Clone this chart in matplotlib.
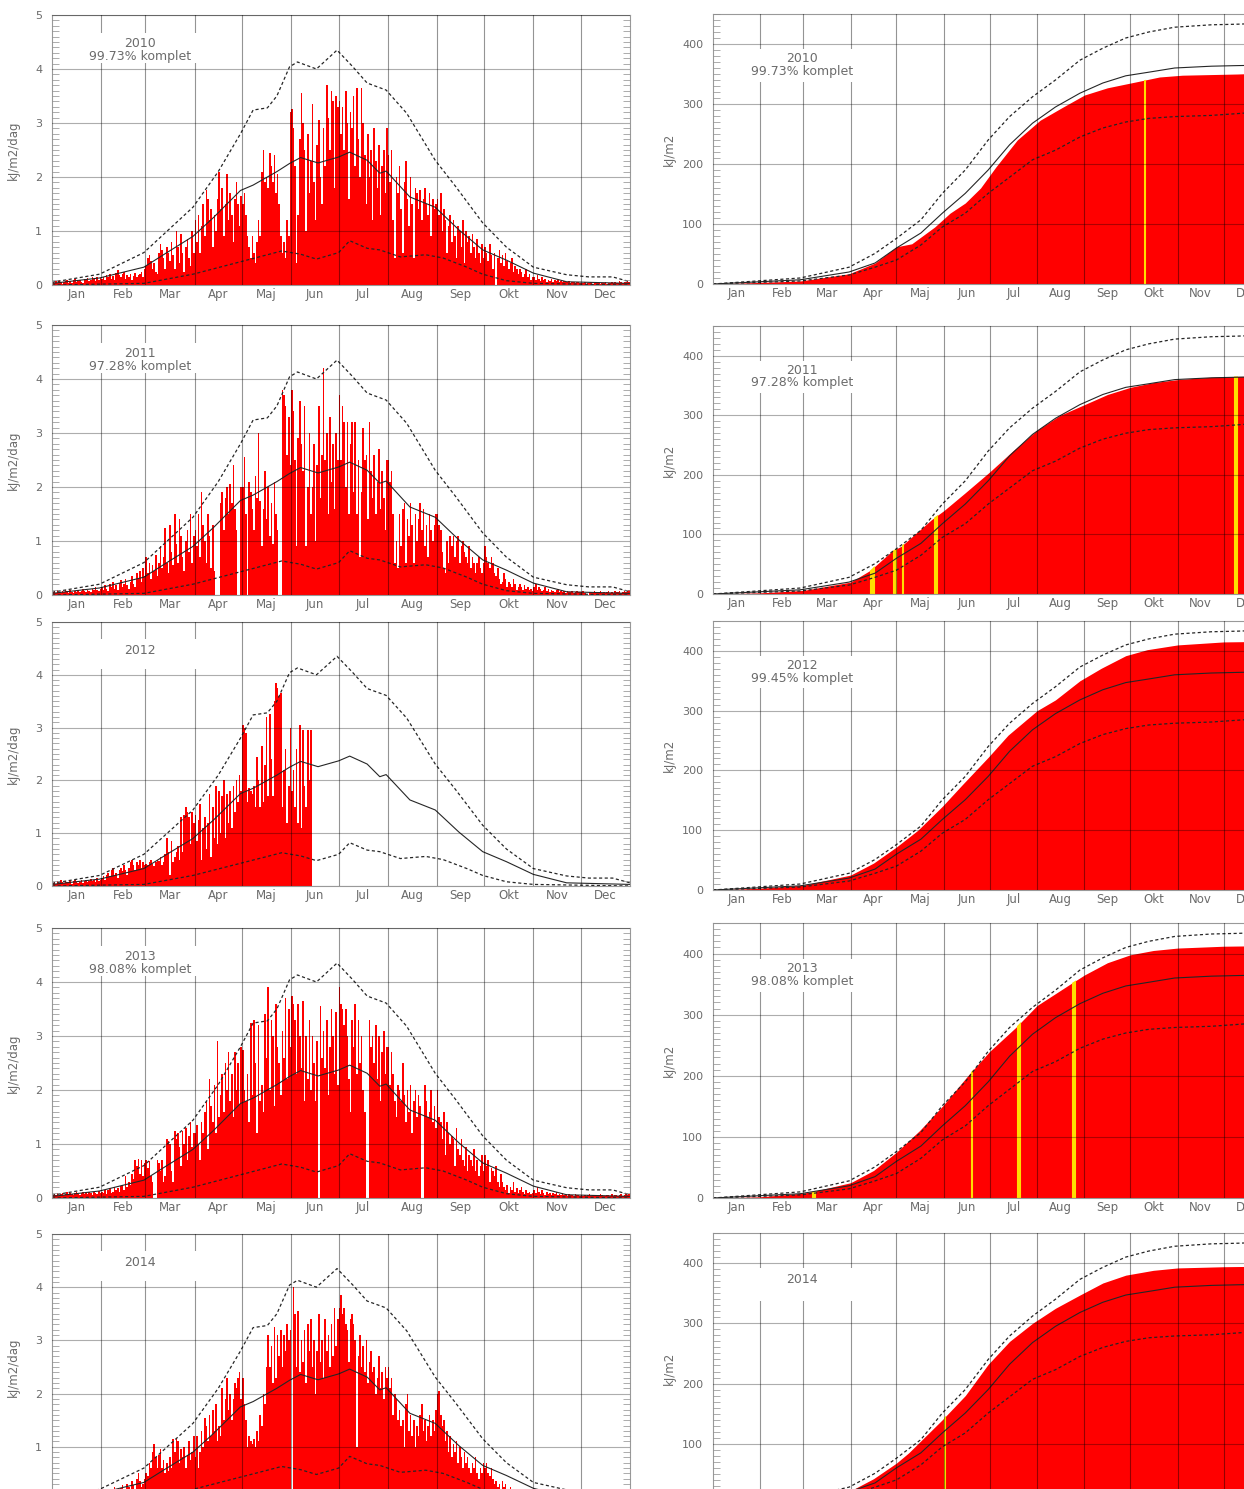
"""Daily and accumulated radiation 2010-2014 compared with climatology"""
import numpy as np
import matplotlib
matplotlib.use("Agg")
import matplotlib.pyplot as plt
from matplotlib.patches import Rectangle
from matplotlib.ticker import MultipleLocator

FIG_W = 1244
FIG_H = 1489

RED = "#ff0000"
YELLOW = "#ffdd00"
TEXT_COLOR = "0.42"
SPINE_COLOR = "0.6"
LINE_COLOR = "0.15"

years = [2010, 2011, 2012, 2013, 2014]
komplet_left = ["99.73% komplet", "97.28% komplet", None, "98.08% komplet", None]
komplet_right = ["99.73% komplet", "97.28% komplet", "99.45% komplet",
                 "98.08% komplet", None]

month_names = ["Jan", "Feb", "Mar", "Apr", "Maj", "Jun",
               "Jul", "Aug", "Sep", "Okt", "Nov", "Dec"]
month_starts = [0, 31, 59, 90, 120, 151, 181, 212, 243, 273, 304, 334, 365]

# daily values, in 0.01 kJ/m2/dag, one line per month
daily_2010 = [
    5, 3, 8, 4, 10, 6, 2, 5, 8, 10, 4, 7, 3, 9, 12, 5, 8, 10, 6, 4, 11, 9, 13, 7, 10, 15, 12, 8, 14, 10, 13,
    12, 15, 10, 18, 14, 20, 12, 16, 10, 22, 28, 18, 15, 20, 25, 12, 18, 15, 20, 10, 16, 22, 14, 18, 20, 25, 15, 30,
    35, 50, 55, 45, 30, 40, 25, 20, 60, 75, 65, 50, 30, 70, 60, 45, 80, 55, 30, 100, 70, 40, 95, 60, 25, 70, 85, 50, 35, 100, 60,
    120, 80, 130, 60, 110, 150, 90, 175, 160, 120, 140, 70, 130, 100, 160, 210, 140, 180, 90, 150, 205, 120, 170, 130, 80, 160, 190, 150, 110, 165,
    150, 170, 130, 90, 70, 50, 90, 60, 40, 80, 120, 90, 210, 250, 190, 200, 180, 245, 220, 190, 240, 170, 205, 150, 90, 60, 80, 50, 120, 90, 320,
    325, 290, 220, 40, 130, 270, 355, 300, 250, 100, 280, 170, 230, 335, 190, 120, 260, 305, 200, 150, 290, 220, 370, 310, 250, 360, 340, 180, 350, 330,
    340, 280, 330, 250, 360, 300, 160, 320, 290, 350, 220, 365, 270, 200, 365, 300, 240, 150, 280, 200, 250, 120, 290, 230, 180, 260, 130, 220, 250, 170, 290,
    240, 190, 250, 120, 50, 200, 170, 220, 140, 60, 190, 230, 160, 110, 200, 150, 50, 180, 170, 140, 175, 120, 160, 180, 150, 130, 170, 90, 160, 140, 150,
    160, 130, 170, 100, 140, 120, 60, 110, 130, 80, 120, 90, 50, 110, 100, 70, 120, 40, 100, 80, 90, 60, 95, 70, 50, 85, 60, 40, 75, 50,
    70, 60, 45, 75, 55, 30, 60, 0, 50, 65, 40, 55, 35, 60, 45, 30, 40, 50, 25, 35, 30, 20, 30, 25, 15, 20, 30, 15, 20, 10, 15,
    15, 10, 18, 12, 8, 15, 10, 12, 6, 10, 8, 12, 5, 9, 7, 10, 6, 8, 5, 7, 6, 5, 8, 4, 6, 5, 4, 6, 5, 4,
    4, 3, 5, 2, 4, 3, 5, 2, 3, 4, 6, 3, 2, 4, 3, 5, 2, 3, 4, 6, 3, 5, 4, 3, 7, 5, 4, 6, 5, 8, 6,
]
daily_2011 = [
    5, 8, 4, 10, 6, 3, 8, 5, 10, 7, 4, 9, 6, 3, 8, 5, 10, 6, 8, 12, 7, 5, 10, 8, 6, 12, 9, 15, 10, 8, 12,
    15, 10, 18, 12, 8, 20, 15, 25, 12, 18, 10, 22, 28, 15, 20, 30, 18, 12, 25, 35, 20, 15, 40, 30, 45, 25, 50, 35,
    70, 40, 60, 30, 55, 45, 75, 35, 60, 90, 50, 70, 125, 60, 40, 130, 80, 55, 150, 95, 60, 140, 110, 70, 45, 100, 120, 80, 150, 60, 110,
    120, 90, 150, 70, 190, 130, 100, 60, 150, 110, 50, 130, 45, 0, 0, 0, 170, 190, 120, 180, 200, 150, 205, 170, 240, 160, 120, 0, 0, 200,
    200, 255, 150, 0, 210, 190, 160, 120, 220, 180, 300, 175, 90, 160, 230, 140, 200, 110, 170, 95, 210, 150, 120, 0, 0, 380, 370, 350, 260, 330, 240,
    380, 340, 250, 90, 290, 360, 280, 230, 350, 90, 200, 300, 150, 200, 280, 100, 240, 350, 180, 260, 420, 250, 300, 150, 330, 210, 280, 160, 300, 250,
    370, 250, 350, 320, 200, 320, 150, 280, 320, 190, 320, 150, 250, 70, 190, 310, 250, 260, 140, 320, 230, 180, 260, 150, 210, 270, 160, 230, 180, 120, 250,
    250, 210, 230, 150, 60, 100, 50, 150, 90, 160, 170, 60, 140, 110, 170, 130, 60, 150, 100, 140, 170, 120, 160, 90, 130, 70, 150, 120, 100, 130, 150,
    150, 130, 120, 80, 50, 40, 100, 60, 110, 90, 110, 70, 100, 110, 60, 90, 100, 80, 70, 60, 90, 50, 70, 60, 40, 60, 70, 50, 40, 60,
    90, 70, 60, 50, 70, 60, 40, 35, 50, 30, 20, 25, 40, 30, 15, 25, 20, 15, 30, 20, 10, 15, 20, 15, 10, 18, 12, 15, 10, 12, 8,
    15, 20, 10, 15, 12, 8, 10, 15, 8, 12, 6, 10, 8, 5, 9, 12, 6, 8, 5, 7, 4, 8, 6, 5, 7, 4, 6, 8, 5, 6,
    5, 8, 4, 0, 0, 6, 5, 3, 7, 4, 6, 5, 8, 3, 5, 4, 6, 7, 3, 5, 4, 8, 6, 5, 7, 4, 6, 8, 5, 7, 9,
]
daily_2012 = [
    5, 8, 4, 10, 6, 12, 7, 5, 10, 8, 6, 9, 4, 10, 12, 7, 5, 8, 11, 6, 9, 12, 8, 10, 14, 9, 12, 8, 15, 10, 12,
    15, 18, 12, 20, 25, 18, 30, 35, 20, 25, 15, 30, 35, 28, 40, 30, 20, 35, 45, 50, 40, 30, 45, 40, 50, 35, 45, 40, 42,
    40, 45, 50, 42, 38, 45, 50, 48, 55, 40, 45, 60, 90, 65, 20, 85, 45, 55, 65, 75, 50, 130, 65, 135, 150, 140, 130, 80, 140, 120, 135,
    85, 125, 155, 50, 110, 130, 70, 120, 175, 55, 150, 90, 190, 80, 180, 100, 170, 200, 90, 175, 120, 180, 110, 190, 140, 200, 160, 210, 180, 305,
    300, 290, 160, 185, 180, 175, 190, 150, 245, 200, 150, 265, 160, 230, 320, 170, 325, 240, 170, 350, 385, 375, 360, 365, 150, 220, 260, 120, 190, 300, 180,
    220, 150, 260, 120, 305, 110, 295, 190, 150, 295, 200, 295,
]
daily_2013 = [
    5, 8, 6, 10, 4, 7, 9, 5, 8, 12, 6, 10, 7, 5, 9, 11, 8, 6, 10, 12, 7, 9, 8, 11, 10, 6, 12, 9, 8, 13, 10,
    12, 10, 15, 8, 14, 18, 10, 12, 20, 15, 18, 12, 22, 25, 15, 40, 20, 30, 25, 45, 35, 70, 60, 72, 45, 70, 40, 65,
    70, 55, 68, 40, 30, 0, 0, 70, 65, 50, 70, 30, 40, 110, 105, 100, 50, 30, 125, 110, 120, 95, 60, 125, 100, 130, 70, 115, 140, 95, 120,
    120, 135, 100, 70, 140, 120, 160, 180, 90, 220, 170, 140, 210, 120, 290, 150, 190, 230, 160, 250, 200, 270, 180, 230, 150, 270, 200, 250, 175, 280,
    275, 200, 180, 230, 140, 325, 190, 330, 250, 120, 320, 180, 210, 160, 340, 260, 390, 200, 330, 300, 170, 360, 280, 250, 190, 310, 260, 370, 220, 350, 280,
    375, 360, 330, 230, 360, 300, 240, 365, 180, 300, 220, 330, 200, 300, 250, 180, 290, 0, 355, 260, 310, 240, 330, 190, 280, 350, 300, 230, 345, 210,
    390, 360, 350, 320, 350, 300, 220, 160, 330, 280, 360, 230, 330, 250, 300, 200, 160, 0, 0, 330, 280, 300, 250, 320, 220, 300, 180, 270, 310, 230, 280,
    280, 210, 270, 230, 180, 150, 210, 200, 180, 250, 190, 140, 200, 160, 210, 120, 180, 200, 150, 190, 170, 0, 0, 210, 180, 150, 160, 200, 140, 170, 130,
    200, 150, 140, 110, 160, 80, 140, 120, 100, 115, 110, 60, 130, 90, 80, 110, 70, 60, 95, 50, 80, 70, 60, 90, 50, 70, 40, 60, 80, 50,
    80, 60, 70, 30, 55, 50, 40, 60, 30, 20, 45, 30, 20, 15, 25, 10, 20, 15, 30, 12, 18, 10, 15, 20, 12, 8, 15, 10, 12, 8, 10,
    15, 10, 20, 12, 8, 15, 10, 6, 12, 8, 10, 5, 9, 7, 12, 6, 8, 5, 10, 6, 7, 4, 8, 5, 6, 4, 7, 5, 6, 4,
    5, 4, 6, 3, 5, 7, 4, 6, 3, 5, 4, 6, 8, 5, 3, 4, 6, 5, 4, 7, 3, 5, 6, 4, 5, 7, 4, 6, 8, 5, 7,
]
daily_2014 = [
    5, 8, 4, 6, 10, 5, 7, 3, 8, 6, 9, 5, 10, 7, 6, 12, 8, 5, 9, 11, 7, 10, 6, 12, 8, 10, 14, 9, 11, 8, 12,
    10, 15, 12, 8, 18, 14, 20, 12, 25, 15, 18, 10, 22, 28, 16, 20, 30, 25, 15, 35, 28, 20, 40, 50, 35, 25, 30, 40,
    50, 45, 70, 60, 90, 105, 80, 60, 85, 95, 60, 75, 50, 70, 55, 80, 60, 115, 90, 115, 110, 70, 95, 80, 100, 60, 85, 110, 75, 90, 120,
    80, 120, 60, 90, 130, 100, 155, 140, 110, 160, 120, 170, 130, 180, 110, 140, 120, 210, 150, 190, 230, 170, 200, 150, 190, 220, 210, 230, 240, 190,
    230, 180, 150, 100, 120, 110, 105, 115, 100, 130, 110, 160, 140, 200, 180, 250, 310, 250, 290, 220, 325, 230, 310, 270, 320, 250, 310, 280, 330, 300, 320,
    0, 400, 350, 250, 355, 240, 300, 260, 320, 220, 330, 280, 340, 250, 300, 200, 280, 350, 260, 300, 230, 340, 280, 310, 250, 330, 270, 360, 290, 340,
    360, 385, 350, 360, 330, 320, 260, 340, 350, 330, 300, 100, 270, 310, 250, 290, 240, 300, 220, 260, 280, 240, 250, 200, 230, 270, 210, 240, 190, 250, 230,
    250, 210, 230, 160, 200, 190, 150, 170, 140, 150, 100, 180, 200, 130, 160, 120, 150, 100, 140, 120, 160, 180, 130, 150, 110, 140, 160, 120, 150, 130, 170,
    200, 205, 160, 140, 150, 110, 130, 90, 120, 80, 105, 90, 110, 70, 100, 80, 60, 90, 70, 80, 60, 50, 70, 60, 80, 50, 40, 60, 50, 70,
    60, 70, 50, 45, 60, 40, 30, 35, 25, 30, 20, 35, 25, 30, 20, 15, 25, 18, 12, 20, 15, 10, 15, 12, 18, 10, 8, 12, 10, 8, 12,
    10, 8, 12, 6, 10, 5, 9, 7, 12, 6, 8, 5, 10, 6, 7, 4, 8, 5, 6, 4, 7, 5, 6, 4, 5, 3, 6, 4, 5, 3,
    4, 3, 5, 2, 4, 6, 3, 5, 4, 2, 3, 5, 4, 6, 3, 4, 2, 5, 3, 4, 6, 3, 5, 4, 3, 5, 4, 6, 3, 5, 4,
]

# days without data (shown in yellow on the accumulated panels)
missing_2010 = [282]
missing_2011 = [103, 104, 105, 118, 119, 124, 145, 146, 341, 342]
missing_2012 = []
missing_2013 = [65, 66, 169, 199, 200, 235, 236]
missing_2014 = [151]

# daily climatology, kJ/m2/dag
upper_days = [0, 30, 58, 89, 105, 119, 127, 136, 142, 150, 155, 167, 180, 190,
              199, 211, 224, 242, 255, 272, 287, 304, 325, 339, 354, 365]
upper_vals = [0.05, 0.2, 0.6, 1.44, 2.1, 2.8, 3.24, 3.28, 3.5, 4.04, 4.13, 4.0,
              4.35, 4.04, 3.74, 3.61, 3.18, 2.31, 1.82, 1.15, 0.7, 0.33, 0.19,
              0.15, 0.15, 0.06]
mean_days = [0, 30, 58, 72, 89, 102, 119, 127, 136, 142, 150, 157, 168, 181,
             188, 199, 207, 211, 226, 242, 257, 272, 287, 304, 325, 365]
mean_vals = [0.03, 0.13, 0.33, 0.59, 0.9, 1.25, 1.75, 1.85, 2.0, 2.1, 2.25,
             2.36, 2.26, 2.37, 2.46, 2.31, 2.07, 2.11, 1.63, 1.44, 1.02, 0.65,
             0.46, 0.22, 0.06, 0.03]
lower_days = [0, 58, 89, 119, 136, 145, 157, 167, 181, 188, 199, 207, 220,
              236, 247, 262, 272, 287, 304, 365]
lower_vals = [0.0, 0.03, 0.2, 0.43, 0.56, 0.63, 0.57, 0.48, 0.6, 0.82, 0.68,
              0.65, 0.52, 0.56, 0.5, 0.33, 0.2, 0.08, 0.03, 0.0]

# accumulated climatology, kJ/m2
cum_days = [0, 57, 89, 106, 120, 136, 150, 165, 180, 194, 209, 224, 240, 255,
            270, 285, 302, 326, 343, 365]
cum_upper = [0, 10, 28, 51, 76, 107, 151, 190, 240, 279, 312, 340, 373, 393,
             410, 420, 428, 432, 433, 435]
cum_mean = [0, 7, 20, 35, 60, 85, 118, 151, 190, 232, 268, 295, 318, 335, 347,
            353, 360, 363, 364, 365]
cum_lower = [0, 5, 15, 28, 40, 65, 95, 118, 151, 178, 207, 223, 245, 260, 270,
             276, 279, 281, 284, 288]

# accumulated values per year, kJ/m2
acc_days_2010 = [0, 57, 89, 106, 120, 130, 145, 155, 165, 175, 185, 199, 214,
                 229, 243, 258, 277, 292, 307, 343, 365]
acc_2010 = [0, 5, 17, 35, 62, 67, 95, 118, 135, 160, 195, 240, 273, 295, 315,
            327, 337, 345, 348, 350, 352]
acc_days_2011 = [0, 31, 59, 90, 103, 117, 123, 143, 151, 165, 181, 196, 212,
                 227, 243, 258, 273, 288, 304, 319, 334, 365]
acc_2011 = [0, 2, 6, 20, 40, 72, 80, 125, 140, 170, 205, 240, 275, 300, 318,
            335, 347, 355, 360, 363, 365, 366]
acc_days_2012 = [0, 31, 59, 90, 105, 120, 134, 150, 163, 180, 193, 212, 224,
                 240, 254, 270, 284, 304, 334, 365]
acc_2012 = [0, 3, 8, 25, 45, 72, 100, 140, 176, 222, 259, 300, 318, 350, 371,
            392, 402, 410, 415, 416]
acc_days_2013 = [0, 31, 59, 66, 90, 105, 120, 135, 150, 167, 181, 198, 212,
                 233, 243, 258, 273, 288, 304, 334, 365]
acc_2013 = [0, 2, 8, 11, 25, 45, 75, 110, 150, 201, 240, 279, 315, 349, 365,
            385, 398, 405, 409, 412, 413]
acc_days_2014 = [0, 31, 59, 90, 105, 120, 128, 150, 165, 180, 194, 209, 224,
                 240, 255, 270, 288, 304, 334, 365]
acc_2014 = [0, 2, 8, 22, 42, 68, 85, 140, 180, 232, 270, 300, 325, 347, 367,
            380, 388, 392, 394, 395]

daily_by_year = [daily_2010, daily_2011, daily_2012, daily_2013, daily_2014]
missing_by_year = [missing_2010, missing_2011, missing_2012, missing_2013,
                   missing_2014]
acc_by_year = [(acc_days_2010, acc_2010), (acc_days_2011, acc_2011),
               (acc_days_2012, acc_2012), (acc_days_2013, acc_2013),
               (acc_days_2014, acc_2014)]

# panel placement in pixels: (top, bottom)
LEFT_X = (52, 630)
RIGHT_X = (713, 1271)
left_rows = [(15, 285), (325, 595), (622, 886), (928, 1198), (1234, 1500)]
right_rows = [(14, 284), (326, 594), (621, 890), (923, 1198), (1233, 1504)]


def panel_axes(fig, xs, rows):
    """Adds axes from pixel extents"""
    top, bottom = rows
    return fig.add_axes([xs[0] / FIG_W, 1 - bottom / FIG_H,
                         (xs[1] - xs[0]) / FIG_W, (bottom - top) / FIG_H])


def style_axes(ax, ymax, major, minor, ylabel, label_x):
    """IDL-like frame: month grid, fine y ticks on both sides"""
    ax.set_xlim(0, 365)
    ax.set_ylim(0, ymax)
    mids = [(a + b) / 2 for a, b in zip(month_starts[:-1], month_starts[1:])]
    ax.set_xticks(mids)
    ax.set_xticklabels(month_names)
    ax.set_xticks(month_starts[1:-1], minor=True)
    ax.yaxis.set_major_locator(MultipleLocator(major))
    ax.yaxis.set_minor_locator(MultipleLocator(minor))
    ax.tick_params(axis="x", which="both", length=0, pad=2.5,
                   labelsize=8.5, labelcolor=TEXT_COLOR)
    ax.tick_params(axis="y", which="major", direction="in", length=0,
                   left=True, right=True, labelsize=8, labelcolor=TEXT_COLOR,
                   pad=7)
    ax.tick_params(axis="y", which="minor", direction="in", length=5,
                   width=0.5, color="0.55", left=True, right=True)
    ax.grid(which="minor", axis="x", color="k", alpha=0.42, lw=0.8)
    ax.grid(which="major", axis="y", color="k", alpha=0.32, lw=0.8)
    ax.set_axisbelow(False)
    for spine in ax.spines.values():
        spine.set_color(SPINE_COLOR)
        spine.set_linewidth(0.8)
    ax.set_ylabel(ylabel, fontsize=8.5, color=TEXT_COLOR)
    ax.yaxis.set_label_coords(label_x, 0.5)


def add_label_box(ax, box, x, lines, ys):
    """White box with year and completeness text, hiding the grid"""
    ax.add_patch(Rectangle((box[0], box[1]), box[2] - box[0], box[3] - box[1],
                           transform=ax.transAxes, facecolor="white",
                           edgecolor="none", zorder=2.6))
    for text, y in zip(lines, ys):
        ax.text(x, y, text, transform=ax.transAxes, ha="center", va="center",
                fontsize=9, color=TEXT_COLOR, zorder=3)


def plot_daily(ax, year, values, komplet):
    """Daily bars with mean and dashed percentile lines"""
    vals = np.array(values) / 100.
    days = np.arange(len(vals))
    ax.bar(days + 0.5, vals, width=1.0, color=RED, linewidth=0, zorder=1)
    ax.plot(upper_days, upper_vals, color=LINE_COLOR, lw=0.9, ls=(0, (2.5, 2)))
    ax.plot(mean_days, mean_vals, color=LINE_COLOR, lw=0.8)
    ax.plot(lower_days, lower_vals, color=LINE_COLOR, lw=0.9, ls=(0, (2.5, 2)))
    style_axes(ax, 5, 1, 0.1, "kJ/m2/dag", -0.055)
    if komplet:
        add_label_box(ax, (0.03, 0.822, 0.30, 0.935), 0.152,
                      [str(year), komplet], [0.893, 0.848])
    else:
        add_label_box(ax, (0.03, 0.822, 0.30, 0.935), 0.152,
                      [str(year)], [0.892])


def plot_accumulated(ax, year, acc, missing, komplet):
    """Accumulated sum as red area, missing days in yellow"""
    days, vals = acc
    poly = ax.fill_between(days, 0, vals, color=RED, lw=0, zorder=1)
    if missing:
        gaps = ax.vlines(np.array(missing) + 0.5, 0, 450, colors=YELLOW,
                         lw=1.5, zorder=1.5)
        gaps.set_clip_path(poly.get_paths()[0], poly.get_transform())
    ax.plot(cum_days, cum_upper, color=LINE_COLOR, lw=0.9, ls=(0, (2.5, 2)))
    ax.plot(cum_days, cum_mean, color=LINE_COLOR, lw=0.8)
    ax.plot(cum_days, cum_lower, color=LINE_COLOR, lw=0.9, ls=(0, (2.5, 2)))
    style_axes(ax, 450, 100, 10, "kJ/m2", -0.066)
    if komplet:
        add_label_box(ax, (0.04, 0.75, 0.28, 0.87), 0.16,
                      [str(year), komplet], [0.834, 0.788])
    else:
        add_label_box(ax, (0.04, 0.75, 0.28, 0.87), 0.16,
                      [str(year)], [0.83])


def plot_all_years():
    """Five years of daily and accumulated panels"""
    fig = plt.figure(figsize=(FIG_W / 100, FIG_H / 100), dpi=100)
    for i, year in enumerate(years):
        ax_day = panel_axes(fig, LEFT_X, left_rows[i])
        plot_daily(ax_day, year, daily_by_year[i], komplet_left[i])
        ax_acc = panel_axes(fig, RIGHT_X, right_rows[i])
        plot_accumulated(ax_acc, year, acc_by_year[i], missing_by_year[i],
                         komplet_right[i])
    fig.savefig("out.png", dpi=100)


if __name__ == "__main__":
    plot_all_years()
